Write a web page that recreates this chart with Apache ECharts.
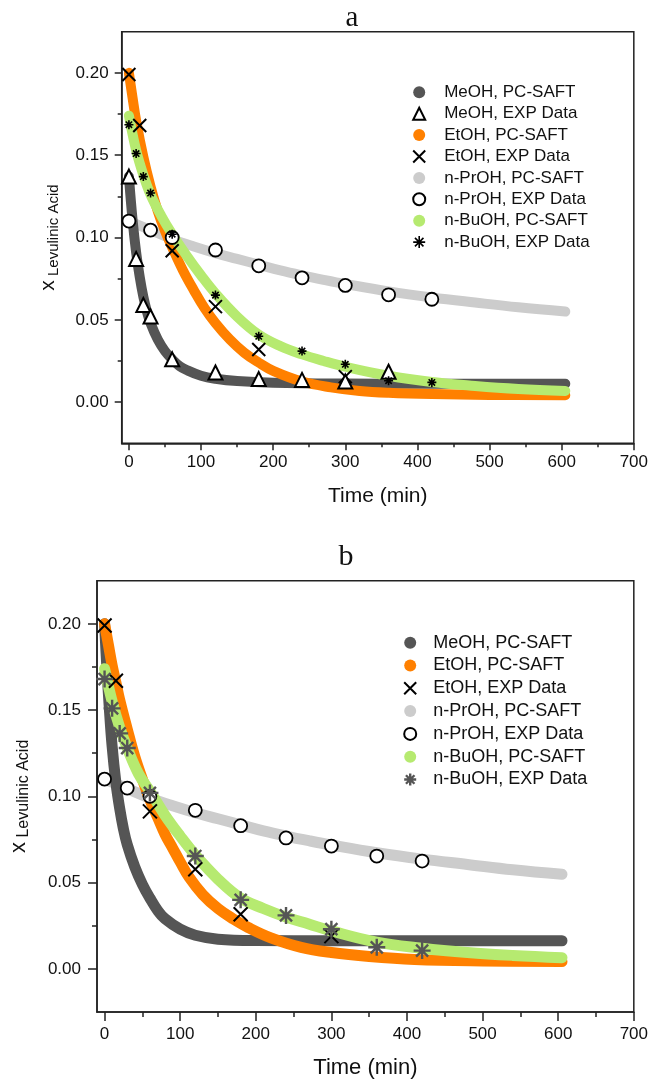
<!DOCTYPE html>
<html>
<head>
<meta charset="utf-8">
<script src="https://cdn.jsdelivr.net/npm/echarts@6/dist/echarts.min.js"></script>
<style>
html,body{margin:0;padding:0;background:#fff}
#chart{width:651px;height:1080px}
</style>
</head>
<body>
<div id="chart"></div>
<script>
// ---- data ----
// panel a : PC-SAFT curves
const meohA_t = [0,5,10,15,20,25,30,40,50,60,70,80,100,120,150,200,300,400,500,605]
const meohA_y = [0.137,0.111,0.091,0.076,0.064,0.055,0.048,0.038,0.031,0.026,0.022,0.0195,0.016,0.0142,0.0128,0.0118,0.0113,0.0112,0.0112,0.0112]
const etohA_t = [0,5,10,20,30,40,50,60,75,90,105,120,140,160,180,200,240,280,320,360,420,500,605]
const etohA_y = [0.200,0.185,0.171,0.149,0.131,0.116,0.104,0.094,0.080,0.068,0.057,0.048,0.038,0.030,0.024,0.019,0.0125,0.009,0.0068,0.0057,0.0049,0.0044,0.0042]
const prohA_t = [0,30,60,90,120,150,180,210,240,270,300,360,420,480,540,605]
const prohA_y = [0.110,0.1045,0.099,0.0945,0.0905,0.087,0.0835,0.080,0.077,0.0743,0.0718,0.0673,0.0636,0.0605,0.0576,0.0550]
const buohA_t = [0,10,20,30,45,60,80,100,120,150,180,210,240,270,300,360,420,480,540,605]
const buohA_y = [0.174,0.153,0.138,0.126,0.113,0.102,0.089,0.077,0.066,0.052,0.041,0.034,0.029,0.025,0.0215,0.016,0.0122,0.0098,0.008,0.0068]

// panel a : experimental points
const meohExpA_t = [0,10,20,30,60,120,180,240,300,360]
const meohExpA_y = [0.137,0.087,0.059,0.052,0.026,0.018,0.014,0.0135,0.0125,0.0185]
const etohExpA_t = [0,15,60,120,180,300]
const etohExpA_y = [0.199,0.168,0.092,0.058,0.032,0.0155]
const prohExp_t = [0,30,60,120,180,240,300,360,420]
const prohExpA_y = [0.110,0.1045,0.100,0.0924,0.0828,0.0755,0.0709,0.0652,0.0625]
const buohExp_t = [0,10,20,30,60,120,180,240,300,360,420]
const buohExpA_y = [0.1685,0.151,0.137,0.127,0.102,0.065,0.040,0.031,0.023,0.013,0.012]

// panel b : PC-SAFT curves
const meohB_t = [0,3,6,10,15,20,25,30,40,50,60,70,80,100,120,150,200,300,400,500,605]
const meohB_y = [0.200,0.175,0.153,0.129,0.108,0.093,0.081,0.072,0.059,0.049,0.041,0.034,0.029,0.023,0.0195,0.0172,0.0164,0.0163,0.0163,0.0163,0.0163]
const etohB_t = [0,5,10,15,20,30,40,50,60,70,80,90,100,112,130,150,170,190,220,260,300,350,410,500,605]
const etohB_y = [0.200,0.188,0.176,0.166,0.156,0.139,0.123,0.110,0.098,0.088,0.078,0.070,0.062,0.053,0.043,0.035,0.029,0.024,0.018,0.0125,0.0095,0.0072,0.0055,0.0046,0.0042]
const prohB_t = [0,30,60,90,120,150,180,210,240,270,300,360,420,480,540,605]
const prohB_y = [0.110,0.1045,0.099,0.0945,0.0905,0.087,0.0835,0.080,0.077,0.0743,0.0718,0.0673,0.0636,0.0605,0.0574,0.0548]
const buohB_t = [0,10,20,30,45,60,80,100,120,150,180,210,240,270,300,360,420,480,540,605]
const buohB_y = [0.174,0.155,0.140,0.128,0.113,0.103,0.089,0.077,0.066,0.052,0.041,0.035,0.030,0.026,0.022,0.0155,0.012,0.0095,0.0078,0.0065]

// panel b : experimental points
const etohExpB_t = [0,15,60,120,180,300]
const etohExpB_y = [0.199,0.167,0.0913,0.0577,0.0317,0.019]
const prohExpB_y = [0.110,0.1048,0.100,0.0919,0.083,0.0759,0.0712,0.0654,0.0625]
const buohExpB_y = [0.168,0.151,0.1365,0.128,0.102,0.0654,0.040,0.031,0.023,0.0125,0.0106]

// axis ticks
const xLabels = [0,100,200,300,400,500,600,700]
const xMinor = [50,150,250,350,450,550,650]
const yLabels = [0,0.05,0.10,0.15,0.20]
const yMinor = [0.025,0.075,0.125,0.175]

const names = ['MeOH, PC-SAFT','MeOH, EXP Data','EtOH, PC-SAFT','EtOH, EXP Data',
  'n-PrOH, PC-SAFT','n-PrOH, EXP Data','n-BuOH, PC-SAFT','n-BuOH, EXP Data']

// ---- helpers ----
const zip = (t, y) => t.map((v, i) => [v, y[i]])
const FONT = 'Liberation Sans'
const C_ME = '#555555', C_ET = '#ff8000', C_PR = '#cccccc', C_BU = '#b6ea70'
const CROSS = 'path://M0,0L10,10M10,0L0,10'
const STAR = 'path://M5,0L5,10M0,5L10,5M1.46,1.46L8.54,8.54M8.54,1.46L1.46,8.54'

function curve(name, data, color, grid, width) {
  return {
    name, type: 'line', data, xAxisIndex: grid * 2, yAxisIndex: grid * 2,
    smooth: 0.4, showSymbol: false, symbol: 'circle',
    itemStyle: {color},
    lineStyle: {color, width, cap: 'round', join: 'round'},
    silent: true, z: 2
  }
}
function points(name, data, symbol, size, fill, stroke, bw, grid) {
  return {
    name, type: 'scatter', data, xAxisIndex: grid * 2, yAxisIndex: grid * 2,
    symbol, symbolSize: size,
    itemStyle: {color: fill, borderColor: stroke, borderWidth: bw, opacity: 1},
    silent: true, z: 5
  }
}

function axesFor(g, tickLen, labelMargin, nameGap, yNameGap, fs, nameFs) {
  const line = {show: true, onZero: false, lineStyle: {color: '#222', width: 1.5}}
  const noLine = {show: false, onZero: false}
  const tickStyle = {color: '#222', width: 1.5}
  const xs = [
    {gridIndex: g, type: 'value', min: -10, max: 700, position: 'bottom',
     axisLine: line, splitLine: {show: false},
     axisTick: {show: true, customValues: xLabels, length: tickLen, lineStyle: tickStyle},
     axisLabel: {customValues: xLabels, margin: labelMargin, fontFamily: FONT, fontSize: fs, color: '#111'},
     name: 'Time (min)', nameLocation: 'middle', nameGap,
     nameTextStyle: {fontFamily: FONT, fontSize: nameFs, color: '#111'}},
    {gridIndex: g, type: 'value', min: -10, max: 700, position: 'bottom',
     axisLine: noLine, splitLine: {show: false}, axisLabel: {show: false},
     axisTick: {show: true, customValues: xMinor, length: Math.round(tickLen / 2), lineStyle: tickStyle}}
  ]
  const ys = [
    {gridIndex: g, type: 'value', min: -0.025, max: 0.225, position: 'left',
     axisLine: line, splitLine: {show: false},
     axisTick: {show: true, customValues: yLabels, length: tickLen, lineStyle: tickStyle},
     axisLabel: {customValues: yLabels, margin: labelMargin + 2, fontFamily: FONT, fontSize: fs, color: '#111',
                 formatter: v => v.toFixed(2)},
     name: '{x|x}{s| Levulinic Acid}', nameLocation: 'middle', nameGap: yNameGap,
     nameTextStyle: {color: '#111', rich: {
       x: {fontFamily: FONT, fontSize: nameFs, lineHeight: 26, color: '#111'},
       s: {fontFamily: FONT, fontSize: nameFs - 6, lineHeight: 14, verticalAlign: 'bottom', color: '#111'}}}},
    {gridIndex: g, type: 'value', min: -0.025, max: 0.225, position: 'left',
     axisLine: noLine, splitLine: {show: false}, axisLabel: {show: false},
     axisTick: {show: true, customValues: yMinor, length: Math.round(tickLen / 2), lineStyle: tickStyle}}
  ]
  return {xs, ys}
}

const axA = axesFor(0, 7, 11, 42, 60, 17, 21)
const axB = axesFor(1, 9, 14, 45, 65, 17, 22)

const legendIcons = {
  'MeOH, PC-SAFT': {icon: 'circle', itemStyle: {color: C_ME, borderWidth: 0}},
  'MeOH, EXP Data': {icon: 'triangle', itemStyle: {color: '#fff', borderColor: '#000', borderWidth: 2}},
  'EtOH, PC-SAFT': {icon: 'circle', itemStyle: {color: C_ET, borderWidth: 0}},
  'EtOH, EXP Data': {icon: CROSS, itemStyle: {color: 'none', borderColor: '#000', borderWidth: 2}},
  'n-PrOH, PC-SAFT': {icon: 'circle', itemStyle: {color: C_PR, borderWidth: 0}},
  'n-PrOH, EXP Data': {icon: 'circle', itemStyle: {color: '#fff', borderColor: '#000', borderWidth: 2}},
  'n-BuOH, PC-SAFT': {icon: 'circle', itemStyle: {color: C_BU, borderWidth: 0}},
  'n-BuOH, EXP Data': {icon: STAR, itemStyle: {color: 'none', borderColor: '#000', borderWidth: 1.6}}
}
function legendData(list, override) {
  return list.map(n => Object.assign({name: n}, legendIcons[n], (override || {})[n] || {}))
}

const chart = echarts.init(document.getElementById('chart'))
chart.setOption({
  animation: false,
  backgroundColor: '#fff',
  title: [
    {text: 'a', left: 347, top: -1, textAlign: 'center',
     textStyle: {fontFamily: 'Liberation Serif', fontSize: 29, fontWeight: 'normal', color: '#111'}},
    {text: 'b', left: 341, top: 537, textAlign: 'center',
     textStyle: {fontFamily: 'Liberation Serif', fontSize: 30, fontWeight: 'normal', color: '#111'}}
  ],
  grid: [
    {left: 121.7, top: 31.7, right: 16.7, bottom: 636.7, show: true, borderColor: '#222', borderWidth: 1.5},
    {left: 96.7, top: 580.7, right: 16.7, bottom: 66.7, show: true, borderColor: '#222', borderWidth: 1.5}
  ],
  xAxis: axA.xs.concat(axB.xs),
  yAxis: axA.ys.concat(axB.ys),
  legend: [
    {orient: 'vertical', left: 410.7, top: 83.8, padding: 0, itemGap: 4.4,
     itemWidth: 12, itemHeight: 12, selectedMode: false,
     textStyle: {fontFamily: FONT, fontSize: 17, lineHeight: 17, color: '#111', padding: [0, 0, 0, 14]},
     data: legendData(names)},
    {orient: 'vertical', left: 401.7, top: 633.7, padding: 0, itemGap: 4.8,
     itemWidth: 12, itemHeight: 12, selectedMode: false,
     textStyle: {fontFamily: FONT, fontSize: 18, lineHeight: 18, color: '#111', padding: [0, 0, 0, 12]},
     data: legendData(names.filter(n => n !== 'MeOH, EXP Data'), {
       'n-BuOH, EXP Data': {itemStyle: {color: 'none', borderColor: '#555', borderWidth: 2.4}}})}
  ],
  series: [
    // panel a
    curve('n-PrOH, PC-SAFT', zip(prohA_t, prohA_y), C_PR, 0, 10),
    curve('MeOH, PC-SAFT', zip(meohA_t, meohA_y), C_ME, 0, 10),
    curve('EtOH, PC-SAFT', zip(etohA_t, etohA_y), C_ET, 0, 10),
    curve('n-BuOH, PC-SAFT', zip(buohA_t, buohA_y), C_BU, 0, 10),
    points('EtOH, EXP Data', zip(etohExpA_t, etohExpA_y), CROSS, 13, 'none', '#000', 2, 0),
    points('MeOH, EXP Data', zip(meohExpA_t, meohExpA_y), 'triangle', 14, '#fff', '#000', 2, 0),
    points('n-PrOH, EXP Data', zip(prohExp_t, prohExpA_y), 'circle', 13, '#fff', '#000', 1.8, 0),
    points('n-BuOH, EXP Data', zip(buohExp_t, buohExpA_y), STAR, 9, 'none', '#000', 1.6, 0),
    // panel b
    curve('n-PrOH, PC-SAFT', zip(prohB_t, prohB_y), C_PR, 1, 11),
    curve('MeOH, PC-SAFT', zip(meohB_t, meohB_y), C_ME, 1, 11),
    curve('EtOH, PC-SAFT', zip(etohB_t, etohB_y), C_ET, 1, 11),
    curve('n-BuOH, PC-SAFT', zip(buohB_t, buohB_y), C_BU, 1, 11),
    points('EtOH, EXP Data', zip(etohExpB_t, etohExpB_y), CROSS, 14, 'none', '#000', 2, 1),
    points('n-PrOH, EXP Data', zip(prohExp_t, prohExpB_y), 'circle', 13, '#fff', '#000', 1.8, 1),
    points('n-BuOH, EXP Data', zip(buohExp_t, buohExpB_y), STAR, 17, 'none', '#555', 2.4, 1)
  ]
})
</script>
</body>
</html>
